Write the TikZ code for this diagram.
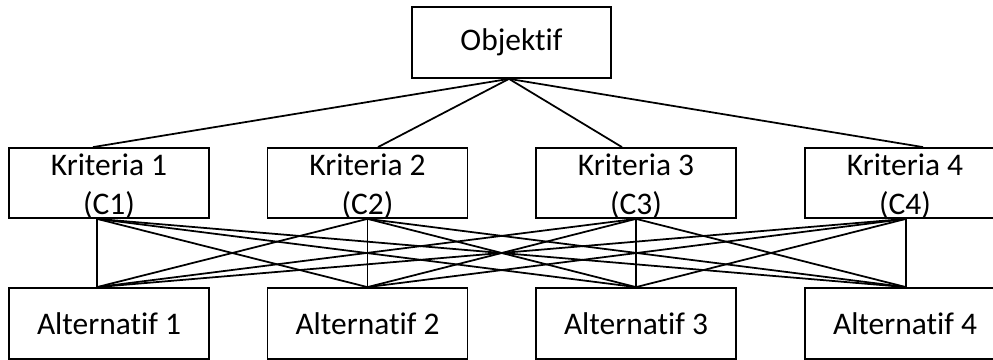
\documentclass[tikz,border=0pt]{standalone}
\usepackage{fontspec}
\setmainfont{Carlito}[Ligatures=NoCommon]
\usetikzlibrary{calc}

\tikzset{
  kotak/.style={draw, line width=1pt, minimum width=4cm, minimum height=1.4cm, inner sep=0pt},
  teks/.style={align=center, inner sep=0pt},
  garis/.style={line width=1pt}
}

\begin{document}
\begin{tikzpicture}[font=\fontsize{17.9}{22.1}\selectfont]
\clip (0,0) rectangle (19.86,7.2);

% tujuan
\node[kotak, minimum width=3.98cm, minimum height=1.42cm] (obj) at (10.23,6.35) {Objektif};

% kriteria
\node[kotak] (k1) at (2.18,3.54) {};
\node[kotak] (k2) at (7.35,3.54) {};
\node[kotak] (k3) at (12.72,3.54) {};
\node[kotak] (k4) at (18.10,3.54) {};
\node[teks] (tk1) at ($(k1)+(0,-0.06)$) {Kriteria 1\\(C1)};
\node[teks] (tk2) at ($(k2)+(0,-0.06)$) {Kriteria 2\\(C2)};
\node[teks] (tk3) at ($(k3)+(0,-0.06)$) {Kriteria 3\\(C3)};
\node[teks] (tk4) at ($(k4)+(0,-0.06)$) {Kriteria 4\\(C4)};

% alternatif
\node[kotak, minimum height=1.42cm] (a1) at (2.18,0.73) {Alternatif 1};
\node[kotak, minimum height=1.42cm] (a2) at (7.35,0.73) {Alternatif 2};
\node[kotak, minimum height=1.42cm] (a3) at (12.72,0.73) {Alternatif 3};
\node[kotak, minimum height=1.42cm] (a4) at (18.10,0.73) {Alternatif 4};

% titik sambung
\coordinate (puncak) at ([xshift=-0.05cm]obj.south);
\coordinate (kt1) at ([xshift=-0.32cm]k1.north);
\coordinate (kt2) at ([xshift=0.21cm]k2.north);
\coordinate (kt3) at ([xshift=-0.28cm]k3.north);
\coordinate (kt4) at ([xshift=0.36cm]k4.north);
\coordinate (kb1) at ([xshift=-0.24cm]k1.south);
\coordinate (kb2) at (k2.south);
\coordinate (kb3) at (k3.south);
\coordinate (kb4) at ([xshift=0.02cm]k4.south);
\coordinate (at1) at ([xshift=-0.24cm]a1.north);
\coordinate (at2) at (a2.north);
\coordinate (at3) at (a3.north);
\coordinate (at4) at ([xshift=0.02cm]a4.north);

\foreach \k in {1,...,4}
  \draw[garis] (puncak) -- (kt\k);
\foreach \k in {1,...,4}
  \foreach \a in {1,...,4}
    \draw[garis] (kb\k) -- (at\a);
\end{tikzpicture}
\end{document}
